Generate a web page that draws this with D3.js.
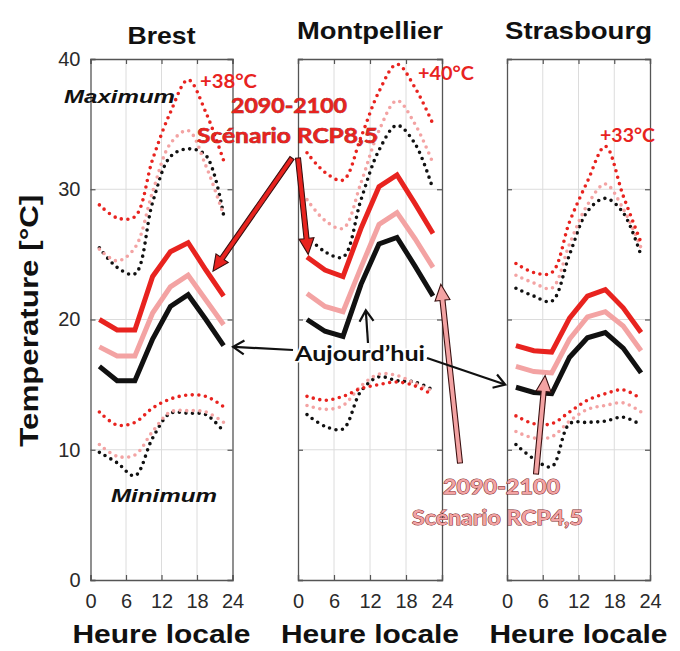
<!DOCTYPE html>
<html><head><meta charset="utf-8">
<script src="https://cdn.jsdelivr.net/npm/d3@7"></script>
<style>html,body{margin:0;padding:0;background:#fff;}</style>
</head><body>
<script>
// ---------- DATA ----------
const hours = [1.5, 4.5, 7.5, 10.5, 13.5, 16.5, 19.5, 22.5];
const cities = ["Brest", "Montpellier", "Strasbourg"];
const xTicks = [0, 6, 12, 18, 24];
const yTicks = [0, 10, 20, 30, 40];

// Brest
const brestMaxNow  = [25.5, 24.0, 23.5, 29.0, 32.5, 33.1, 32.6, 28.0];
const brestMax45   = [25.4, 24.5, 25.5, 29.8, 33.5, 34.5, 31.8, 28.0];
const brestMax85   = [28.8, 27.8, 27.9, 32.3, 35.9, 38.4, 35.9, 32.2];
const brestMeanNow = [16.4, 15.3, 15.3, 18.5, 21.0, 21.9, 20.0, 18.0];
const brestMean45  = [17.9, 17.2, 17.2, 20.5, 22.5, 23.4, 21.5, 19.6];
const brestMean85  = [20.0, 19.2, 19.2, 23.3, 25.2, 25.9, 23.8, 21.8];
const brestMinNow  = [9.8, 9.0, 8.0, 10.9, 12.8, 12.8, 12.7, 11.4];
const brestMin45   = [10.4, 9.5, 9.6, 11.4, 12.9, 13.0, 12.9, 12.1];
const brestMin85   = [12.9, 11.9, 12.1, 13.2, 13.9, 14.2, 14.1, 13.3];
// Montpellier
const montMaxNow  = [26.4, 25.2, 24.8, 29.2, 33.0, 34.9, 33.5, 30.0];
const montMax45   = [29.2, 27.6, 27.0, 30.5, 34.5, 36.8, 35.0, 32.0];
const montMax85   = [32.8, 31.3, 30.7, 34.0, 37.5, 39.6, 37.8, 35.0];
const montMeanNow = [20.0, 19.1, 18.7, 22.7, 25.8, 26.3, 24.1, 21.8];
const montMean45  = [22.0, 21.0, 20.6, 24.0, 27.3, 28.2, 26.2, 24.0];
const montMean85  = [24.8, 23.8, 23.3, 27.0, 30.2, 31.1, 28.9, 26.6];
const montMinNow  = [12.7, 11.8, 11.6, 14.5, 15.6, 15.3, 15.2, 14.6];
const montMin45   = [13.4, 13.1, 13.4, 14.9, 15.8, 15.7, 15.1, 14.5];
const montMin85   = [14.1, 13.8, 14.1, 14.7, 15.0, 15.2, 14.9, 14.2];
// Strasbourg
const strasMaxNow  = [22.4, 21.8, 21.4, 25.0, 28.3, 29.3, 28.2, 24.9];
const strasMax45   = [23.4, 22.8, 22.4, 25.8, 28.8, 30.4, 28.5, 25.5];
const strasMax85   = [24.3, 23.6, 23.6, 27.5, 30.6, 33.3, 29.5, 25.9];
const strasMeanNow = [14.8, 14.4, 14.3, 17.1, 18.6, 19.0, 17.8, 15.9];
const strasMean45  = [16.4, 16.0, 15.9, 18.5, 20.2, 20.6, 19.5, 17.6];
const strasMean85  = [18.0, 17.6, 17.5, 20.1, 21.8, 22.3, 20.9, 19.0];
const strasMinNow  = [10.4, 9.3, 8.7, 12.0, 12.1, 12.2, 12.5, 11.9];
const strasMin45   = [11.4, 10.9, 11.0, 12.2, 13.1, 13.4, 13.6, 12.9];
const strasMin85   = [12.6, 12.0, 12.0, 12.9, 13.8, 14.3, 14.6, 13.9];

const peakLabels = ["+38°C", "+40°C", "+33°C"];

// ---------- LAYOUT ----------
const W = 680, H = 651;
const panelX = [[90.5, 232.5], [298, 442], [507, 650]];
const yTop = 59, yBot = 580;
const RED = "#e8231f", PINK = "#f3a3a3", BLACK = "#111";

const series = [
  [brestMaxNow, brestMax45, brestMax85, brestMeanNow, brestMean45, brestMean85, brestMinNow, brestMin45, brestMin85],
  [montMaxNow, montMax45, montMax85, montMeanNow, montMean45, montMean85, montMinNow, montMin45, montMin85],
  [strasMaxNow, strasMax45, strasMax85, strasMeanNow, strasMean45, strasMean85, strasMinNow, strasMin45, strasMin85]
];
const styleOf = [
  {c: BLACK, dot: true}, {c: PINK, dot: true}, {c: RED, dot: true},
  {c: BLACK, dot: false}, {c: PINK, dot: false}, {c: RED, dot: false},
  {c: BLACK, dot: true}, {c: PINK, dot: true}, {c: RED, dot: true}
];
const drawOrder = [0, 1, 2, 6, 7, 8, 3, 4, 5];

const svg = d3.select("body").append("svg").attr("width", W).attr("height", H)
  .style("font-family", "'Liberation Sans', Arial, sans-serif");

const y = d3.scaleLinear().domain([0, 40]).range([yBot, yTop]);
const xs = panelX.map(r => d3.scaleLinear().domain([0, 24]).range(r));

cities.forEach((city, i) => {
  const x = xs[i];
  const g = svg.append("g");
  // grid
  g.selectAll("line.vg").data([6, 12, 18]).join("line")
    .attr("x1", d => x(d)).attr("x2", d => x(d)).attr("y1", yTop).attr("y2", yBot)
    .attr("stroke", "#dcdcdc").attr("stroke-width", 1);
  g.selectAll("line.hg").data([10, 20, 30]).join("line")
    .attr("x1", x(0)).attr("x2", x(24)).attr("y1", d => y(d)).attr("y2", d => y(d))
    .attr("stroke", "#dcdcdc").attr("stroke-width", 1);
  // axes (box with inward ticks)
  const axB = d3.axisBottom(x).tickValues(xTicks).tickSize(-5).tickPadding(14).tickFormat(d3.format("d"));
  const axT = d3.axisTop(x).tickValues(xTicks).tickSize(-5).tickFormat("");
  const axL = d3.axisLeft(y).tickValues(yTicks).tickSize(-5).tickPadding(10).tickFormat(i === 0 ? d3.format("d") : "");
  const axR = d3.axisRight(y).tickValues(yTicks).tickSize(-5).tickFormat("");
  [[axB, `translate(0,${yBot})`], [axT, `translate(0,${yTop})`], [axL, `translate(${x(0)},0)`], [axR, `translate(${x(24)},0)`]]
    .forEach(([ax, tr]) => {
      const a = g.append("g").attr("transform", tr).call(ax);
      a.select(".domain").attr("stroke", "#555").attr("stroke-width", 1.3);
      a.selectAll(".tick line").attr("stroke", "#555").attr("stroke-width", 1.2);
      a.selectAll(".tick text").attr("fill", "#2a2a2a").style("font-size", "20px")
        .style("font-family", "'Liberation Sans', Arial, sans-serif");
    });
  // lines
  drawOrder.forEach(k => {
    const st = styleOf[k];
    const data = hours.map((h, j) => [h, series[i][k][j]]);
    const line = d3.line().x(d => x(d[0])).y(d => y(d[1]))
      .curve(st.dot ? d3.curveCatmullRom.alpha(0.5) : d3.curveLinear);
    const p = g.append("path").attr("d", line(data)).attr("fill", "none").attr("stroke", st.c);
    if (st.dot) p.attr("stroke-width", 3.6).attr("stroke-linecap", "round").attr("stroke-dasharray", "0 6.6");
    else p.attr("stroke-width", 5).attr("stroke-linejoin", "miter").attr("stroke-linecap", "butt");
  });
  // title
  g.append("text").attr("x", x(12)).attr("y", i === 0 ? 44 : 39).attr("text-anchor", "middle")
    .attr("font-weight", "bold").style("font-size", "24px").attr("fill", "#111")
    .attr("textLength", [68, 146, 147][i]).attr("lengthAdjust", "spacingAndGlyphs").text(city);
  // x label
  g.append("text").attr("x", x(12)).attr("y", 643).attr("text-anchor", "middle")
    .attr("font-weight", "bold").style("font-size", "25px").attr("fill", "#111")
    .attr("textLength", 178).attr("lengthAdjust", "spacingAndGlyphs").text("Heure locale");
});

// y label
svg.append("text").attr("transform", `translate(38,${y(19.9)}) rotate(-90)`).attr("text-anchor", "middle")
  .attr("font-weight", "bold").style("font-size", "26px").attr("fill", "#111")
  .attr("textLength", 252).attr("lengthAdjust", "spacingAndGlyphs").text("Temperature [°C]");

// ---------- ANNOTATIONS ----------
const anno = svg.append("g").style("font-family", "Lato, 'Open Sans', sans-serif");
function label(txt, x, yy, len, fill, opts = {}) {
  const t = anno.append("text").attr("x", x).attr("y", yy).attr("fill", fill)
    .attr("font-weight", "bold").style("font-size", (opts.size || 20) + "px")
    .attr("textLength", len).attr("lengthAdjust", "spacingAndGlyphs").text(txt);
  if (opts.italic) t.style("font-style", "italic").style("font-family", "'Liberation Sans', Arial, sans-serif");
  if (opts.stroke) t.attr("stroke", opts.stroke).attr("stroke-width", opts.sw || 0.8).attr("paint-order", "stroke");
  return t;
}
// peak labels
label(peakLabels[0], 200, 88, 57, RED, {size: 19});
label(peakLabels[1], 418, 80, 56, RED, {size: 19});
label(peakLabels[2], 600, 142, 55, RED, {size: 19});
label("Maximum", 64, 103, 111, "#111", {size: 19, italic: true});
label("Minimum", 111, 502, 106, "#111", {size: 19, italic: true});

function pt(panel, h, T) { return [xs[panel](h), y(T)]; }
function fatArrow(p0, p1, fill, sw, hl, hw) {
  const dx = p1[0] - p0[0], dy = p1[1] - p0[1], L = Math.hypot(dx, dy);
  const ux = dx / L, uy = dy / L, nx = -uy, ny = ux;
  const bx = p1[0] - ux * hl, by = p1[1] - uy * hl;
  const pts = [
    [p0[0] + nx * sw / 2, p0[1] + ny * sw / 2], [bx + nx * sw / 2, by + ny * sw / 2],
    [bx + nx * hw / 2, by + ny * hw / 2], p1,
    [bx - nx * hw / 2, by - ny * hw / 2], [bx - nx * sw / 2, by - ny * sw / 2],
    [p0[0] - nx * sw / 2, p0[1] - ny * sw / 2]
  ];
  anno.append("polygon").attr("points", pts.map(p => p.join(",")).join(" "))
    .attr("fill", fill).attr("stroke", "#3a1010").attr("stroke-width", 1.1).attr("stroke-linejoin", "miter");
}
function thinArrow(p0, p1) {
  const dx = p1[0] - p0[0], dy = p1[1] - p0[1], L = Math.hypot(dx, dy);
  const ux = dx / L, uy = dy / L, nx = -uy, ny = ux, hl = 11, hw = 7;
  anno.append("line").attr("x1", p0[0]).attr("y1", p0[1]).attr("x2", p1[0] - ux).attr("y2", p1[1] - uy)
    .attr("stroke", "#111").attr("stroke-width", 2.2);
  anno.append("polyline").attr("points", [
    [p1[0] - ux * hl + nx * hw, p1[1] - uy * hl + ny * hw], p1,
    [p1[0] - ux * hl - nx * hw, p1[1] - uy * hl - ny * hw]].map(p => p.join(",")).join(" "))
    .attr("fill", "none").attr("stroke", "#111").attr("stroke-width", 2.2);
}

// RCP8.5 arrows (red)
fatArrow([292, 158], pt(0, 20.7, 23.7), RED, 5, 16, 15);
fatArrow([298, 158], pt(1, 1.7, 25.0), RED, 5, 16, 15);
// RCP4.5 arrows (pink)
fatArrow([460, 463], pt(1, 23.8, 22.7), PINK, 5, 16, 15);
fatArrow([536, 474], pt(2, 6.4, 15.7), PINK, 5, 16, 15);
// Aujourd'hui arrows
thinArrow([293, 350], pt(0, 24.1, 17.9));
thinArrow([368, 343], pt(1, 11.3, 20.7));
thinArrow([427, 358], pt(2, -0.3, 15.0));

// labels (on top)
label("2090-2100", 231, 113, 116, RED, {size: 21, stroke: "#7a1212", sw: 0.6});
label("Scénario RCP8,5", 197, 143, 181, RED, {size: 21, stroke: "#7a1212", sw: 0.6});
label("Aujourd’hui", 295, 361, 130, "#111", {size: 21, stroke: "#fff", sw: 3});
label("2090-2100", 443, 494, 117, PINK, {size: 21, stroke: "#7a2a2a", sw: 1});
label("Scénario RCP4,5", 412, 525, 171, PINK, {size: 21, stroke: "#7a2a2a", sw: 1});
</script>
</body></html>
